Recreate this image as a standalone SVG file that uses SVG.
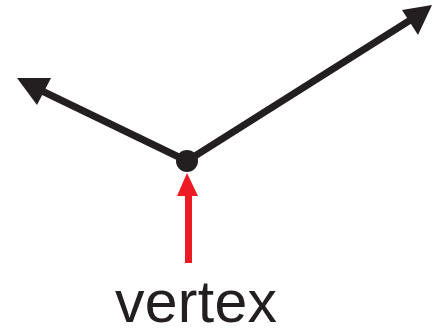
<svg xmlns="http://www.w3.org/2000/svg" width="438" height="331" viewBox="0 0 438 331">
<style>
.ray{stroke:#231f20;stroke-width:7;fill:none}
.head{fill:#231f20}
.lbl{font-family:"Liberation Sans",Arial,sans-serif;font-size:59px;fill:#231f20}
</style>
<rect width="438" height="331" fill="#fff"/>
<g id="connectors">
<line class="ray" x1="187" y1="161" x2="40" y2="90"/>
<polygon class="head" points="17,78 51,78 37,105"/>
<line class="ray" x1="187" y1="161" x2="412" y2="19"/>
<polygon class="head" points="432,5 402,10 418,35"/>
<polygon fill="#ed1c24" points="185,195 192,195 192,263 185,263"/>
<polygon fill="#ed1c24" points="187,173 177,196 198,196"/>
</g>
<g id="vertex">
<circle cx="187" cy="161" r="11" fill="#231f20"/>
</g>
<g id="label">
<text class="lbl" x="115" y="322" textLength="162" lengthAdjust="spacing">vertex</text>
</g>
</svg>
